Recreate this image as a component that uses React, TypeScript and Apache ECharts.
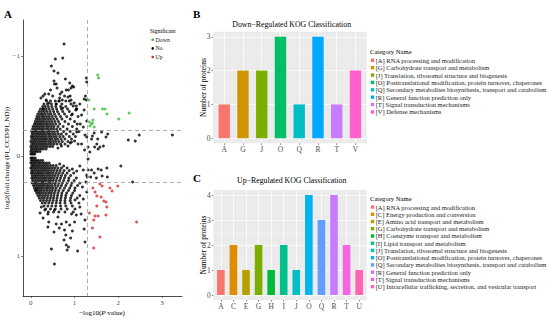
import React, { useEffect, useRef } from "react";
import * as echarts from "echarts";

// ---------- Panel A: volcano plot data ----------
const volcanoXTicks = [0, 1, 2, 3];
const volcanoYTicks = [-1, 0, 1];
const pThreshold = 1.3;
const fcThreshold = 0.263;
const significantLevels = ["Down", "No", "Up"];

// dense core of non-significant proteins, read row by row: [log2FC, [-log10 P values]]
const coreUpperRows: [number, number[]][] = [
  [-0.02, [0, 0.03, 0.06, 0.09]],
  [-0.045, [0, 0.04, 0.08, 0.12, 0.16, 0.21]],
  [-0.07, [0.01, 0.05, 0.1, 0.14, 0.19, 0.24, 0.29, 0.35]],
  [-0.095, [0, 0.04, 0.09, 0.13, 0.18, 0.23, 0.28, 0.33, 0.38, 0.44, 0.5]],
  [-0.12, [0.02, 0.06, 0.11, 0.16, 0.21, 0.26, 0.31, 0.36, 0.42, 0.47, 0.53, 0.6, 0.68]],
  [-0.145, [0, 0.05, 0.09, 0.14, 0.19, 0.24, 0.29, 0.34, 0.4, 0.45, 0.51, 0.57, 0.64, 0.72, 0.85]],
  [-0.17, [0.02, 0.07, 0.12, 0.17, 0.22, 0.27, 0.32, 0.37, 0.43, 0.48, 0.55, 0.61, 0.69, 0.78, 0.93]],
  [-0.195, [0.01, 0.05, 0.1, 0.15, 0.2, 0.25, 0.3, 0.35, 0.41, 0.46, 0.52, 0.58, 0.66, 0.74, 0.88, 1.02]],
  [-0.22, [0.03, 0.08, 0.13, 0.18, 0.23, 0.28, 0.33, 0.39, 0.44, 0.5, 0.56, 0.63, 0.7, 0.81, 0.97]],
  [-0.245, [0.02, 0.06, 0.11, 0.16, 0.21, 0.26, 0.31, 0.37, 0.42, 0.48, 0.54, 0.61, 0.75, 0.9, 1.1]],
  [-0.27, [0.04, 0.09, 0.14, 0.19, 0.24, 0.29, 0.35, 0.4, 0.46, 0.52, 0.59, 0.67, 0.83, 1.05]],
  [-0.295, [0.05, 0.1, 0.15, 0.2, 0.25, 0.3, 0.36, 0.41, 0.47, 0.53, 0.62, 0.74, 0.95]],
  [-0.32, [0.08, 0.12, 0.17, 0.22, 0.27, 0.33, 0.38, 0.44, 0.5, 0.57, 0.66, 0.86, 1.13]],
  [-0.345, [0.1, 0.15, 0.2, 0.25, 0.3, 0.36, 0.42, 0.48, 0.55, 0.63, 0.78, 1.0]],
  [-0.37, [0.12, 0.17, 0.22, 0.28, 0.33, 0.39, 0.45, 0.52, 0.6, 0.71, 0.9]],
  [-0.395, [0.14, 0.19, 0.25, 0.3, 0.36, 0.42, 0.49, 0.57, 0.68, 0.82, 1.08]],
  [-0.42, [0.16, 0.22, 0.27, 0.33, 0.4, 0.46, 0.54, 0.64, 0.77, 0.95]],
  [-0.445, [0.19, 0.25, 0.31, 0.37, 0.44, 0.52, 0.61, 0.73, 0.88]],
  [-0.47, [0.22, 0.29, 0.35, 0.42, 0.5, 0.59, 0.7, 0.84, 1.05]],
  [-0.495, [0.27, 0.33, 0.4, 0.48, 0.57, 0.68, 0.8]],
  [-0.52, [0.3, 0.38, 0.47, 0.58, 0.71, 0.92]],
  [-0.55, [0.36, 0.45, 0.56, 0.65, 0.8]],
];

const coreLowerRows: [number, number[]][] = [
  [0.02, [0, 0.03, 0.06, 0.1]],
  [0.045, [0.01, 0.05, 0.09, 0.13, 0.17, 0.22, 0.27]],
  [0.07, [0, 0.04, 0.08, 0.12, 0.17, 0.21, 0.26, 0.31, 0.36, 0.42]],
  [0.095, [0.02, 0.06, 0.1, 0.15, 0.19, 0.24, 0.29, 0.34, 0.39, 0.45, 0.51, 0.58]],
  [0.12, [0, 0.04, 0.09, 0.13, 0.18, 0.23, 0.28, 0.33, 0.38, 0.43, 0.49, 0.55, 0.62, 0.7]],
  [0.145, [0.02, 0.06, 0.11, 0.16, 0.21, 0.26, 0.31, 0.36, 0.41, 0.47, 0.53, 0.6, 0.67, 0.76, 0.88]],
  [0.17, [0.01, 0.05, 0.1, 0.15, 0.19, 0.24, 0.29, 0.35, 0.4, 0.45, 0.51, 0.58, 0.65, 0.73, 0.83, 0.98]],
  [0.195, [0.03, 0.08, 0.12, 0.17, 0.22, 0.27, 0.32, 0.38, 0.43, 0.49, 0.55, 0.62, 0.7, 0.79, 0.91]],
  [0.22, [0.02, 0.06, 0.11, 0.16, 0.21, 0.26, 0.31, 0.36, 0.42, 0.47, 0.53, 0.6, 0.68, 0.77, 0.87, 1.04]],
  [0.245, [0.04, 0.09, 0.14, 0.19, 0.24, 0.29, 0.34, 0.4, 0.45, 0.51, 0.58, 0.66, 0.75, 0.86, 0.99]],
  [0.27, [0.03, 0.08, 0.13, 0.18, 0.23, 0.28, 0.33, 0.38, 0.44, 0.5, 0.56, 0.64, 0.72, 0.83, 0.94, 1.12]],
  [0.295, [0.06, 0.11, 0.16, 0.21, 0.26, 0.31, 0.37, 0.42, 0.48, 0.55, 0.62, 0.7, 0.8, 0.92, 1.07]],
  [0.32, [0.08, 0.13, 0.18, 0.23, 0.28, 0.34, 0.39, 0.45, 0.51, 0.58, 0.67, 0.77, 0.89, 1.01]],
  [0.345, [0.1, 0.15, 0.2, 0.25, 0.31, 0.37, 0.43, 0.49, 0.56, 0.64, 0.74, 0.86, 1.0]],
  [0.37, [0.13, 0.18, 0.23, 0.29, 0.35, 0.41, 0.47, 0.54, 0.62, 0.71, 0.82, 0.96]],
  [0.395, [0.16, 0.21, 0.27, 0.33, 0.39, 0.46, 0.53, 0.61, 0.7, 0.8, 0.93, 1.12]],
  [0.42, [0.19, 0.25, 0.31, 0.38, 0.45, 0.52, 0.6, 0.69, 0.79, 0.91, 1.06]],
  [0.445, [0.22, 0.29, 0.36, 0.43, 0.51, 0.59, 0.68, 0.78, 0.9]],
  [0.47, [0.26, 0.33, 0.41, 0.49, 0.58, 0.67, 0.78, 0.92, 1.1]],
  [0.5, [0.3, 0.39, 0.48, 0.57, 0.68, 0.8, 0.95]],
  [0.53, [0.34, 0.45, 0.56, 0.69, 0.83, 1.01]],
  [0.56, [0.4, 0.52, 0.64, 0.78, 0.97]],
];

// scattered non-significant proteins: [-log10 P, log2FC]
const sparseNo: number[][] = [
  [0.76, -1.12], [0.56, -0.97], [0.73, -0.98], [0.47, -0.9], [0.53, -0.85], [0.62, -0.83],
  [0.79, -0.77], [0.53, -0.75], [0.54, -0.72], [0.58, -0.72], [0.89, -0.73], [0.95, -0.7],
  [0.98, -0.69], [1.27, -0.78], [1.28, -0.74], [0.81, -0.66], [0.71, -0.64], [0.67, -0.62],
  [0.32, -0.62], [0.41, -0.62], [0.5, -0.6], [0.77, -0.6], [0.85, -0.59], [0.35, -0.56],
  [0.41, -0.53], [0.64, -0.55], [0.97, -0.5], [1.04, -0.47], [1.22, -0.57], [1.27, -0.56],
  [0.92, -0.68], [0.86, -0.66], [0.99, -0.53], [1.12, -0.52], [1.03, -0.46], [1.22, -0.46],
  [1.16, -0.41], [0.93, -0.41], [1.28, -0.35], [1.06, -0.32], [1.2, -0.29], [1.05, -0.24],
  [1.24, -0.21], [1.16, -0.12], [0.93, -0.14], [0.23, -0.58], [0.28, -0.6], [0.45, -0.66],
  [0.6, -0.68], [0.66, -0.58], [0.72, -0.56], [0.9, -0.6], [0.88, -0.55], [1.25, -0.6],
  [0.92, -0.56], [0.58, -0.52], [0.73, -0.48], [0.28, -0.47], [1.04, -0.5],
  [0.62, -0.08], [0.7, -0.1], [0.78, -0.12], [0.85, -0.1], [0.9, -0.13], [1.0, -0.15],
  [1.08, -0.12], [0.66, 0.08], [0.75, 0.1], [0.83, 0.12], [0.95, 0.13], [1.05, 0.15],
  [1.12, 0.1], [1.2, 0.14],
  [1.28, -0.19], [1.39, -0.17], [1.53, -0.17], [1.51, -0.12], [1.72, -0.19], [1.76, -0.22],
  [1.54, -0.07], [1.66, -0.1], [2.23, -0.16], [2.39, -0.15], [2.48, -0.21], [3.24, -0.21],
  [1.31, -0.09], [1.58, -0.09], [1.23, -0.06], [1.35, -0.04], [1.46, -0.09], [1.31, 0.03],
  [1.41, -0.2], [1.45, -0.23], [1.62, -0.24],
  [1.54, 0.13], [1.61, 0.14], [1.74, 0.12], [1.75, 0.21], [1.31, 0.14], [1.28, 0.19],
  [1.37, 0.21], [1.26, 0.26], [2.06, 0.1], [2.33, 0.26], [1.39, 0.14], [1.45, 0.17],
  [1.5, 0.22], [1.63, 0.2],
  [0.24, 0.51], [0.39, 0.58], [0.41, 0.66], [0.39, 0.71], [0.54, 0.54], [0.62, 0.61],
  [0.7, 0.68], [0.81, 0.66], [0.89, 0.69], [1.0, 0.66], [1.04, 0.59], [1.15, 0.58],
  [0.58, 0.68], [0.53, 0.76], [0.77, 0.74], [0.8, 0.79], [0.47, 0.93], [0.81, 0.89],
  [0.83, 0.94], [1.07, 0.95], [0.54, 1.08], [1.22, 0.73], [0.76, 0.84], [0.86, 0.91],
  [0.91, 0.82], [1.24, 0.86], [1.24, 0.64], [0.21, 0.57], [0.93, 0.58], [1.12, 0.51],
  [1.01, 0.44], [1.2, 0.43], [1.28, 0.36], [1.18, 0.31], [1.29, 0.21], [0.32, 0.54],
  [0.12, 0.34], [0.28, 0.62], [0.65, 0.72], [0.95, 0.75],
];

const downPoints: number[][] = [
  [1.53, -0.81], [1.55, -0.78], [1.33, -0.56], [1.45, -0.47], [1.64, -0.47], [1.7, -0.47],
  [1.74, -0.42], [2.01, -0.37], [2.25, -0.43], [1.34, -0.34], [1.41, -0.33], [1.35, -0.3],
  [1.39, -0.32], [1.45, -0.29], [1.42, -0.36],
];

const upPoints: number[][] = [
  [1.42, 0.32], [1.47, 0.36], [1.58, 0.28], [1.63, 0.3], [1.86, 0.35], [1.99, 0.3],
  [1.81, 0.32], [1.51, 0.4], [1.61, 0.41], [1.67, 0.45], [1.72, 0.46], [1.74, 0.51],
  [1.51, 0.5], [1.47, 0.6], [1.54, 0.6], [1.34, 0.57], [1.44, 0.64], [1.41, 0.72],
  [1.58, 0.81], [1.44, 0.92], [2.42, 0.66], [1.72, 0.59],
];

// ---------- Panel B ----------
const downCats = ["A", "G", "J", "O", "Q", "R", "T", "V"];
const downCounts = [1, 2, 2, 3, 1, 3, 1, 2];
const downNames = [
  "[A] RNA processing and modification",
  "[G] Carbohydrate transport and metabolism",
  "[J] Translation, ribosomal structure and biogenesis",
  "[O] Posttranslational modification, protein turnover, chaperones",
  "[Q] Secondary metabolites biosynthesis, transport and catabolism",
  "[R] General function prediction only",
  "[T] Signal transduction mechanisms",
  "[V] Defense mechanisms",
];
const downTicks = [0, 1, 2, 3];

// ---------- Panel C ----------
const upCats = ["A", "C", "E", "G", "H", "I", "J", "O", "Q", "R", "T", "U"];
const upCounts = [1, 2, 1, 2, 1, 2, 1, 4, 3, 4, 2, 1];
const upNames = [
  "[A] RNA processing and modification",
  "[C] Energy production and conversion",
  "[E] Amino acid transport and metabolism",
  "[G] Carbohydrate transport and metabolism",
  "[H] Coenzyme transport and metabolism",
  "[I] Lipid transport and metabolism",
  "[J] Translation, ribosomal structure and biogenesis",
  "[O] Posttranslational modification, protein turnover, chaperones",
  "[Q] Secondary metabolites biosynthesis, transport and catabolism",
  "[R] General function prediction only",
  "[T] Signal transduction mechanisms",
  "[U] Intracellular trafficking, secretion, and vesicular transport",
];
const upTicks = [0, 1, 2, 3, 4];

// ---------- styles ----------
const downColors = ["#F8766D", "#CD9600", "#7CAE00", "#00BE67", "#00BFC4", "#00A9FF", "#C77CFF", "#FF61CC"];
const upColors = ["#F8766D", "#DE8C00", "#B79F00", "#7CAE00", "#00BA38", "#00C08B", "#00BFC4", "#00B4F0", "#619CFF", "#C77CFF", "#F564E3", "#FF64B0"];
const sigColors = ["#3DBB3D", "#000000", "#D42A2A"];
const FONT = "'Liberation Serif', 'Times New Roman', serif";
const AXIS_TEXT = "#4D4D4D";

const minus = (v: number) => (v < 0 ? "\u2212" + Math.abs(v) : String(v));

function barAxes(gridIndex: number, cats: string[], ticks: number[]) {
  const n = cats.length;
  const maxT = ticks[ticks.length - 1];
  const pad = maxT * 0.05;
  const minor = ticks.slice(0, -1).map((t) => t + 0.5);
  const positions = cats.map((_, i) => i + 1);
  const x = {
    type: "value",
    gridIndex,
    min: 0.4,
    max: n + 0.6,
    axisLine: { show: false, onZero: false },
    axisTick: { show: true, length: 1.5, customValues: positions, lineStyle: { color: "#333", width: 0.6 } },
    axisLabel: {
      customValues: positions,
      formatter: (v: number) => cats[Math.round(v) - 1] ?? "",
      fontSize: 7.5,
      fontFamily: FONT,
      color: AXIS_TEXT,
      margin: 2,
    },
    splitLine: { show: true, lineStyle: { color: "#FFFFFF", width: 0.7 } },
  };
  const y = {
    type: "value",
    gridIndex,
    min: -pad,
    max: maxT + pad,
    axisLine: { show: false, onZero: false },
    axisTick: { show: true, length: 1.5, customValues: ticks, lineStyle: { color: "#333", width: 0.6 } },
    axisLabel: { customValues: ticks, fontSize: 7.5, fontFamily: FONT, color: AXIS_TEXT, margin: 2.5 },
    splitLine: { show: true, lineStyle: { color: "#FFFFFF", width: 0.7 } },
  };
  const yMinor = {
    type: "value",
    gridIndex,
    min: -pad,
    max: maxT + pad,
    position: "left",
    axisLine: { show: false, onZero: false },
    axisTick: { show: false, customValues: minor },
    axisLabel: { show: false },
    splitLine: { show: true, lineStyle: { color: "#FFFFFF", width: 0.35 } },
  };
  return { x, y, yMinor };
}

function legendGraphics(x: number, titleY: number, firstY: number, step: number, names: string[], colors: string[]) {
  const els: any[] = [
    {
      type: "text",
      x,
      y: titleY,
      style: { text: "Category Name", fontSize: 6.6, fontFamily: FONT, fill: "#000", verticalAlign: "middle", align: "left" },
    },
  ];
  names.forEach((nm, i) => {
    const cy = firstY + i * step;
    els.push({ type: "rect", shape: { x: x + 0.8, y: cy - 1.7, width: 3.4, height: 3.4 }, style: { fill: colors[i] } });
    els.push({
      type: "text",
      x: x + 5.7,
      y: cy,
      style: { text: nm, fontSize: 6.5, fontFamily: FONT, fill: "#1A1A1A", verticalAlign: "middle", align: "left" },
    });
  });
  return els;
}

export default function App() {
  const ref = useRef<HTMLDivElement>(null);

  useEffect(() => {
    if (!ref.current) return;
    const chart = echarts.init(ref.current, undefined, { renderer: "svg" });

    const noPoints: number[][] = [
      ...coreUpperRows.flatMap(([y, xs]) => xs.map((x) => [x, y])),
      ...coreLowerRows.flatMap(([y, xs]) => xs.map((x) => [x, y])),
      ...sparseNo,
    ];

    const B = barAxes(1, downCats, downTicks);
    const C = barAxes(2, upCats, upTicks);

    const sigGraphics: any[] = [
      {
        type: "text",
        x: 149.7,
        y: 31,
        style: { text: "Significant", fontSize: 5.9, fontFamily: FONT, fill: "#000", verticalAlign: "middle" },
      },
    ];
    significantLevels.forEach((lv, i) => {
      const cy = 39.7 + i * 8.65;
      sigGraphics.push({ type: "circle", shape: { cx: 152.7, cy, r: 1.3 }, style: { fill: sigColors[i] } });
      sigGraphics.push({
        type: "text",
        x: 155.6,
        y: cy,
        style: { text: lv, fontSize: 5.9, fontFamily: FONT, fill: "#1A1A1A", verticalAlign: "middle" },
      });
    });

    const option: any = {
      animation: false,
      backgroundColor: "#FFFFFF",
      grid: [
        { left: 23, top: 20, width: 159, height: 276, show: false },
        { left: 213, top: 31.7, width: 153.7, height: 111.6, show: true, backgroundColor: "#EBEBEB", borderWidth: 0 },
        { left: 213.3, top: 190, width: 153.4, height: 110, show: true, backgroundColor: "#EBEBEB", borderWidth: 0 },
      ],
      xAxis: [
        {
          type: "value",
          gridIndex: 0,
          min: -0.18,
          max: 3.46,
          axisLine: { show: true, onZero: false, lineStyle: { color: "#000", width: 0.7 } },
          axisTick: { show: true, length: 2, customValues: volcanoXTicks, lineStyle: { color: "#333", width: 0.6 } },
          axisLabel: { customValues: volcanoXTicks, fontSize: 7, fontFamily: FONT, color: AXIS_TEXT, margin: 3 },
          splitLine: { show: false },
        },
        B.x,
        C.x,
      ],
      yAxis: [
        {
          type: "value",
          gridIndex: 0,
          inverse: true,
          min: -1.36,
          max: 1.4,
          axisLine: { show: true, onZero: false, lineStyle: { color: "#000", width: 0.7 } },
          axisTick: { show: true, length: 2, customValues: volcanoYTicks, lineStyle: { color: "#333", width: 0.6 } },
          axisLabel: {
            customValues: volcanoYTicks,
            formatter: (v: number) => minus(v),
            fontSize: 7,
            fontFamily: FONT,
            color: AXIS_TEXT,
            margin: 3,
          },
          splitLine: { show: false },
        },
        B.y,
        B.yMinor,
        C.y,
        C.yMinor,
      ],
      series: [
        {
          name: "No",
          type: "scatter",
          xAxisIndex: 0,
          yAxisIndex: 0,
          data: noPoints,
          symbol: "circle",
          symbolSize: 3,
          itemStyle: { color: sigColors[1] },
          silent: true,
          markLine: {
            silent: true,
            symbol: ["none", "none"],
            label: { show: false },
            lineStyle: { type: [4, 3], color: "#9A9A9A", width: 0.8 },
            data: [{ xAxis: pThreshold }, { yAxis: -fcThreshold }, { yAxis: fcThreshold }],
          },
        },
        {
          name: "Down",
          type: "scatter",
          xAxisIndex: 0,
          yAxisIndex: 0,
          data: downPoints,
          symbol: "circle",
          symbolSize: 3,
          itemStyle: { color: sigColors[0] },
          z: 3,
        },
        {
          name: "Up",
          type: "scatter",
          xAxisIndex: 0,
          yAxisIndex: 0,
          data: upPoints,
          symbol: "circle",
          symbolSize: 3,
          itemStyle: { color: sigColors[2] },
          z: 3,
        },
        {
          name: "Down-regulated KOG",
          type: "bar",
          xAxisIndex: 1,
          yAxisIndex: 1,
          barWidth: 11.4,
          data: downCounts.map((v, i) => ({ value: [i + 1, v], itemStyle: { color: downColors[i] } })),
        },
        {
          name: "Up-regulated KOG",
          type: "bar",
          xAxisIndex: 2,
          yAxisIndex: 3,
          barWidth: 7.6,
          data: upCounts.map((v, i) => ({ value: [i + 1, v], itemStyle: { color: upColors[i] } })),
        },
      ],
      graphic: [
        { type: "text", x: 4, y: 13.5, style: { text: "A", fontSize: 11, fontWeight: "bold", fontFamily: FONT, fill: "#000", verticalAlign: "middle" } },
        { type: "text", x: 193, y: 13.5, style: { text: "B", fontSize: 11, fontWeight: "bold", fontFamily: FONT, fill: "#000", verticalAlign: "middle" } },
        { type: "text", x: 193, y: 177.5, style: { text: "C", fontSize: 11, fontWeight: "bold", fontFamily: FONT, fill: "#000", verticalAlign: "middle" } },
        {
          type: "text",
          x: 7,
          y: 158,
          rotation: Math.PI / 2,
          style: { text: "log2(fold change (PI_CCD/PI_ND))", fontSize: 7, fontFamily: FONT, fill: "#000", align: "center", verticalAlign: "middle" },
        },
        {
          type: "text",
          x: 102,
          y: 313,
          style: {
            text: "{a|\u2212log10(}{b|P}{a| value)}",
            align: "center",
            verticalAlign: "middle",
            rich: {
              a: { fontSize: 7, fontFamily: FONT, fill: "#000" },
              b: { fontSize: 7, fontFamily: FONT, fontStyle: "italic", fill: "#000" },
            },
          },
        },
        ...sigGraphics,
        {
          type: "text",
          x: 291.7,
          y: 24.3,
          style: { text: "Down\u2212Regulated KOG Classification", fontSize: 7.8, fontFamily: FONT, fill: "#000", align: "center", verticalAlign: "middle" },
        },
        {
          type: "text",
          x: 203,
          y: 87.5,
          rotation: Math.PI / 2,
          style: { text: "Number of proteins", fontSize: 7.5, fontFamily: FONT, fill: "#000", align: "center", verticalAlign: "middle" },
        },
        ...legendGraphics(370, 51.7, 60.3, 7.38, downNames, downColors),
        {
          type: "text",
          x: 291.7,
          y: 180.7,
          style: { text: "Up\u2212Regulated KOG Classification", fontSize: 7.8, fontFamily: FONT, fill: "#000", align: "center", verticalAlign: "middle" },
        },
        {
          type: "text",
          x: 203,
          y: 245,
          rotation: Math.PI / 2,
          style: { text: "Number of proteins", fontSize: 7.5, fontFamily: FONT, fill: "#000", align: "center", verticalAlign: "middle" },
        },
        ...legendGraphics(370, 198.3, 207, 7.24, upNames, upColors),
      ],
    };

    chart.setOption(option);
    return () => chart.dispose();
  }, []);

  return <div ref={ref} style={{ position: "fixed", left: 0, top: 0, width: 550, height: 330 }} />;
}
